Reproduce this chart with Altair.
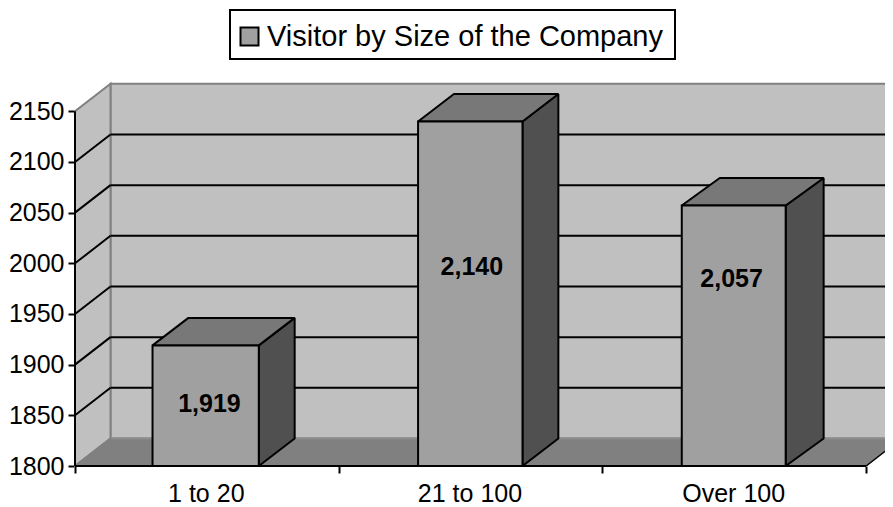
import altair as alt
import pandas as pd

categories = ["1 to 20", "21 to 100", "Over 100"]
values = [1919, 2140, 2057]
value_labels = ["1,919", "2,140", "2,057"]
label_heights = [1861, 1996, 1985]
label_centers = [0.51, 1.505, 2.49]
bar_left = [0.294, 1.301, 2.301]
bar_right = [0.697, 1.697, 2.695]
bar_depth = [0.136, 0.136, 0.144]
y_ticks = [1800, 1850, 1900, 1950, 2000, 2050, 2100, 2150]
inner_grid = [1850, 1900, 1950, 2000, 2050, 2100]
x_ticks = [0, 1, 2, 3]
label_positions = [0.496, 1.496, 2.496]
series_name = "Visitor by Size of the Company"
FONT = "Liberation Sans"

PX_PER_UNIT = 1.0134
PX_PER_CAT = 263.7
W, H = 810, 386
DX = 35.5 / PX_PER_CAT
DZ = 27.5 / PX_PER_UNIT
BASE, TOP = y_ticks[0], y_ticks[-1]
XMAX = W / PX_PER_CAT
YMAX = BASE + H / PX_PER_UNIT

xs = alt.Scale(domain=[0, XMAX], nice=False, zero=False)
ys = alt.Scale(domain=[BASE, YMAX], nice=False, zero=False)
X = lambda f="x": alt.X(f + ":Q", scale=xs, axis=None, title=None, stack=None)
Y = lambda f="y": alt.Y(f + ":Q", scale=ys, axis=None, title=None, stack=None)
X2 = alt.X2("x2:Q")
Y2 = alt.Y2("y2:Q")
GRAY = "#808080"

def df(rows):
    return pd.DataFrame(rows)

left_wall = alt.Chart(df([
    dict(x=0, y=BASE, y2=TOP), dict(x=DX, y=BASE + DZ, y2=TOP + DZ)
])).mark_area(color="#c0c0c0", stroke=GRAY, strokeWidth=2, opacity=1).encode(x=X(), y=Y(), y2=Y2)

back_wall = alt.Chart(df([dict(x=DX, x2=XMAX + 1, y=BASE + DZ, y2=TOP + DZ)])).mark_rect(
    color="#c0c0c0", stroke=GRAY, strokeWidth=2, clip=True).encode(x=X(), x2=X2, y=Y(), y2=Y2)

floor = alt.Chart(df([
    dict(y=BASE, x=0, x2=x_ticks[-1]), dict(y=BASE + DZ, x=DX, x2=x_ticks[-1] + DX)
])).mark_area(orient="horizontal", color=GRAY, clip=True).encode(y=Y(), x=X(), x2=X2)

floor_back = alt.Chart(df([dict(x=DX, x2=XMAX + 1, y=BASE + DZ)])).mark_rule(
    color="#8c8c8c", strokeWidth=2, clip=True).encode(x=X(), x2=X2, y=Y())

floor_left = alt.Chart(df([dict(x=0, y=BASE), dict(x=DX, y=BASE + DZ)])).mark_line(
    color=GRAY, strokeWidth=2).encode(x=X(), y=Y())

floor_right = alt.Chart(df([
    dict(x=x_ticks[-1], y=BASE), dict(x=x_ticks[-1] + DX, y=BASE + DZ)
])).mark_line(color="black", strokeWidth=1.5, clip=True).encode(x=X(), y=Y())

grid = alt.Chart(df([dict(x=DX, x2=XMAX + 1, y=v + DZ) for v in inner_grid])).mark_rule(
    color="black", strokeWidth=2, clip=True).encode(x=X(), x2=X2, y=Y())

wall_ticks = alt.Chart(df(
    [dict(v=v, x=0, y=v) for v in inner_grid] + [dict(v=v, x=DX, y=v + DZ) for v in inner_grid]
)).mark_line(color="black", strokeWidth=2).encode(x=X(), y=Y(), detail="v:N")

y_axis_line = alt.Chart(df([dict(x=0, y=BASE, y2=TOP)])).mark_rule(color="black", strokeWidth=2).encode(
    x=X(), y=Y(), y2=Y2)

x_axis_line = alt.Chart(df([dict(x=0, x2=x_ticks[-1], y=BASE)])).mark_rule(color="black", strokeWidth=2).encode(
    x=X(), x2=X2, y=Y())

axis_y = alt.Chart(df([dict(y=v) for v in y_ticks])).mark_point(opacity=0).encode(
    y=alt.Y("y:Q", scale=ys, title=None, axis=alt.Axis(
        orient="left", values=y_ticks, grid=False, domain=False, tickSize=7, tickWidth=2, tickColor="black",
        labelFont=FONT, labelFontSize=25, labelColor="black", labelPadding=4, format="d",
        labelOverlap=False, labelBound=False, labelFlush=False)),
    x=alt.value(0))

axis_labels = alt.Chart(df([dict(x=p, name=c) for p, c in zip(label_positions, categories)])).mark_point(opacity=0).encode(
    x=alt.X("x:Q", scale=xs, title=None, axis=alt.Axis(
        orient="bottom", values=label_positions,
        labelExpr="%s[round(datum.value - %s)]" % (categories, label_positions[0]),
        grid=False, domain=False, ticks=False, labelFont=FONT, labelFontSize=25,
        labelColor="black", labelPadding=15, labelOverlap=False, labelFlush=False, labelBound=False)),
    y=alt.value(H))

axis_ticks = alt.Chart(df([dict(x=v) for v in x_ticks])).mark_point(opacity=0).encode(
    x=alt.X("x:Q", scale=xs, title=None, axis=alt.Axis(
        orient="bottom", values=x_ticks, grid=False, domain=False, labels=False, tickSize=7, tickWidth=2, tickColor="black")),
    y=alt.value(H))

bars = pd.DataFrame(dict(name=categories, v=values, l=bar_left, r=bar_right))
side_rows, top_rows = [], []
for n, v, l, r, d in zip(categories, values, bar_left, bar_right, bar_depth):
    side_rows += [dict(n=n, x=r, y=BASE, y2=v), dict(n=n, x=r + d, y=BASE + DZ, y2=v + DZ)]
    top_rows += [dict(n=n, y=v, x=l, x2=r), dict(n=n, y=v + DZ, x=l + d, x2=r + d)]

bar_side = alt.Chart(df(side_rows)).mark_area(color="#505050", stroke="black", strokeWidth=2, opacity=1, strokeJoin="bevel").encode(
    x=X(), y=Y(), y2=Y2, detail="n:N")
bar_top = alt.Chart(df(top_rows)).mark_area(orient="horizontal", color="#787878", stroke="black", strokeWidth=2, opacity=1, strokeJoin="bevel").encode(
    y=Y(), x=X(), x2=X2, detail="n:N")

bars["series"] = series_name
bars["base"] = BASE
bar_front = alt.Chart(bars).mark_rect(stroke="black", strokeWidth=2).encode(
    x=alt.X("l:Q", scale=xs, axis=None), x2="r:Q",
    y=alt.Y("v:Q", scale=ys, axis=None), y2="base:Q",
    fill=alt.Fill("series:N", scale=alt.Scale(domain=[series_name], range=["#a0a0a0"]), legend=alt.Legend(
        title=None, orient="none", legendX=160, legendY=-58, symbolType="square", symbolSize=324,
        symbolStrokeColor="black", symbolStrokeWidth=2, symbolFillColor="#a0a0a0", labelFont=FONT, labelFontSize=29,
        labelOffset=3, labelColor="black", labelLimit=600, padding=0)))

legend_frame = alt.Chart(df([dict(a=0)])).mark_rect(
    fillOpacity=0, stroke="black", strokeWidth=2, clip=False).encode(
    x=alt.value(155), x2=alt.value(600), y=alt.value(-70), y2=alt.value(-21))

texts = alt.Chart(pd.DataFrame(dict(t=value_labels, x=label_centers, y=label_heights))).mark_text(
    font=FONT, fontSize=25, fontWeight="bold", color="black").encode(x=X(), y=Y(), text="t:N")

chart = alt.layer(
    axis_y, axis_labels, axis_ticks, back_wall, left_wall, floor, floor_back, floor_left, floor_right,
    grid, wall_ticks, y_axis_line, x_axis_line, bar_side, bar_top, bar_front, texts, legend_frame
).resolve_axis(x="independent", y="independent").properties(
    width=W, height=H,
    autosize=alt.AutoSizeParams(type="none"),
    padding={"left": 67, "top": 72, "right": 0, "bottom": 41},
).configure_view(stroke=None)

chart.save("out.html", embed_options={"renderer": "svg", "actions": False})
